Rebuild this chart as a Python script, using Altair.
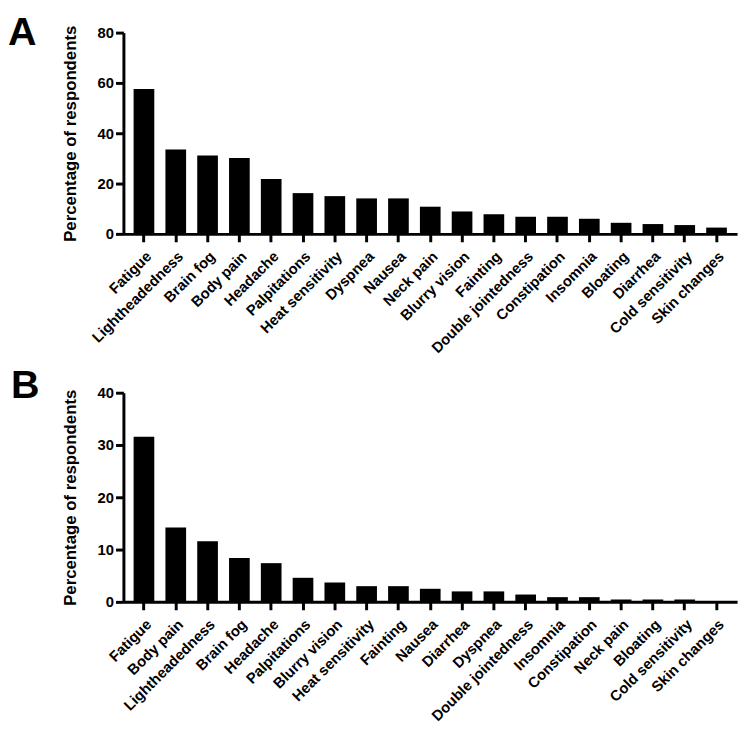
import altair as alt
import pandas as pd

symptoms_a = ["Fatigue", "Lightheadedness", "Brain fog", "Body pain", "Headache",
              "Palpitations", "Heat sensitivity", "Dyspnea", "Nausea", "Neck pain",
              "Blurry vision", "Fainting", "Double jointedness", "Constipation",
              "Insomnia", "Bloating", "Diarrhea", "Cold sensitivity", "Skin changes"]
pct_a = [57.6, 33.5, 31.2, 30.2, 21.8, 16.2, 15.0, 14.1, 14.1, 10.8,
         8.9, 7.8, 6.8, 6.8, 6.0, 4.4, 3.9, 3.5, 2.5]

symptoms_b = ["Fatigue", "Body pain", "Lightheadedness", "Brain fog", "Headache",
              "Palpitations", "Blurry vision", "Heat sensitivity", "Fainting", "Nausea",
              "Diarrhea", "Dyspnea", "Double jointedness", "Insomnia", "Constipation",
              "Neck pain", "Bloating", "Cold sensitivity", "Skin changes"]
pct_b = [31.6, 14.2, 11.6, 8.4, 7.4, 4.6, 3.7, 3.0, 3.0, 2.5,
         2.0, 2.0, 1.4, 0.9, 0.9, 0.45, 0.45, 0.45, 0.05]

ticks_a = [0, 20, 40, 60, 80]
ticks_b = [0, 10, 20, 30, 40]

FONT = "Liberation Sans"


def panel(cats, vals, ticks, letter, h, dx, offset):
    df = pd.DataFrame({"symptom": cats, "pct": vals})
    return alt.Chart(df).mark_bar(color="black").encode(
        x=alt.X("symptom:N", sort=cats,
                scale=alt.Scale(paddingInner=0.35, paddingOuter=0.32),
                axis=alt.Axis(title=None, labelAngle=-45, labelFontSize=15,
                              labelPadding=7)),
        y=alt.Y("pct:Q", scale=alt.Scale(domain=[ticks[0], ticks[-1]], nice=False),
                axis=alt.Axis(values=ticks, title="Percentage of respondents",
                              titleFontSize=17, labelFontSize=15, titlePadding=18,
                              labelPadding=2)),
    ).properties(
        width=622, height=h,
        title=alt.TitleParams(letter, anchor="start", frame="group", fontSize=40,
                              font=FONT, fontWeight="bold", dx=dx, offset=offset,
                              color="black"),
    )


chart = alt.vconcat(
    panel(symptoms_a, pct_a, ticks_a, "A", 204, -117, -28),
    panel(symptoms_b, pct_b, ticks_b, "B", 212, -114, -20),
    spacing=10,
).configure_view(stroke=None).configure_axis(
    grid=False, domainColor="black", domainWidth=3, tickColor="black", tickWidth=3,
    tickSize=8, labelColor="black", labelFont=FONT, labelFontWeight="bold",
    titleColor="black", titleFont=FONT, titleFontWeight="bold",
).properties(padding={"left": 0, "top": 0, "right": 5, "bottom": 5})

chart.save("out.html", embed_options={"renderer": "svg", "actions": False})
